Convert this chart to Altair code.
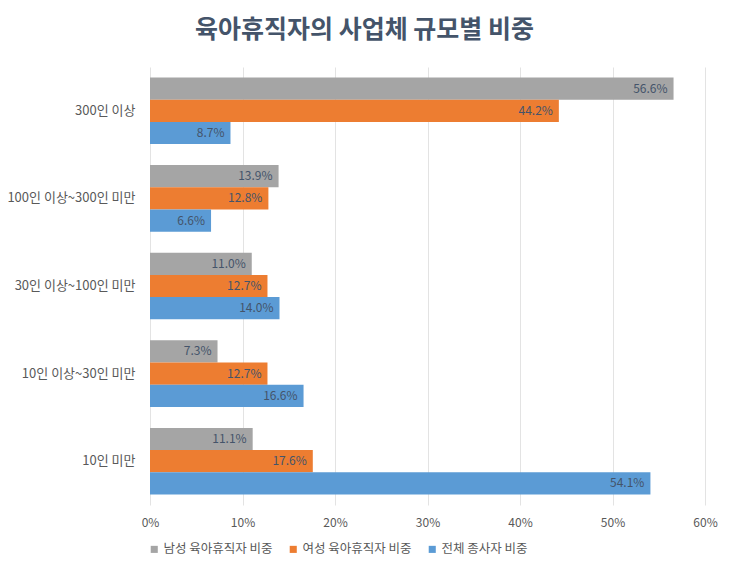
import altair as alt
import pandas as pd

categories = ["300인 이상", "100인 이상~300인 미만", "30인 이상~100인 미만", "10인 이상~30인 미만", "10인 미만"]
series = ["남성 육아휴직자 비중", "여성 육아휴직자 비중", "전체 종사자 비중"]
male = [56.6, 13.9, 11.0, 7.3, 11.1]
female = [44.2, 12.8, 12.7, 12.7, 17.6]
total = [8.7, 6.6, 14.0, 16.6, 54.1]
colors = ["#A5A5A5", "#ED7D31", "#5B9BD5"]
x_ticks = [0, 10, 20, 30, 40, 50, 60]

rows = []
for s, vals in zip(series, [male, female, total]):
    for c, v in zip(categories, vals):
        rows.append({"category": c, "series": s, "value": v, "label": f"{v:.1f}%"})
df = pd.DataFrame(rows)

font = "Noto Sans CJK KR"

y = alt.Y("category:N", sort=categories, title=None,
          scale=alt.Scale(paddingInner=0.24, paddingOuter=0.12),
          axis=alt.Axis(domain=False, ticks=False, labelFont=font, labelFontSize=13,
                        labelColor="#595959", labelPadding=15))
yoff = alt.YOffset("series:N", sort=series)
x = alt.X("value:Q", title=None,
          scale=alt.Scale(domain=[0, 60], nice=False),
          axis=alt.Axis(values=x_ticks, labelExpr="datum.value + '%'", domain=False, ticks=False,
                        grid=True, gridColor="#E3E3E3", labelFont=font, labelFontSize=12,
                        labelColor="#595959", labelPadding=12, labelFlush=False))

bars = alt.Chart(df).mark_bar().encode(
    y=y, yOffset=yoff, x=x,
    color=alt.Color("series:N", sort=series,
                    scale=alt.Scale(domain=series, range=colors),
                    legend=alt.Legend(title=None, orient="none", direction="horizontal",
                                      legendX=-2, legendY=476, symbolType="square",
                                      symbolSize=50, symbolStrokeWidth=0, labelFont=font,
                                      labelFontSize=12.5, labelColor="#595959",
                                      columnPadding=14, labelOffset=3)),
)

text = alt.Chart(df).mark_text(align="right", baseline="middle", dx=-6, font=font,
                               fontSize=12, color="#44546A").encode(
    y=y, yOffset=yoff, x=x, text="label:N")

chart = (bars + text).properties(
    width=555, height=438,
    title=alt.TitleParams("육아휴직자의 사업체 규모별 비중", font=font, fontSize=25,
                          fontWeight="bold", color="#44546A", anchor="middle", dx=-63, offset=24),
    autosize=alt.AutoSizeParams(type="none"),
    padding={"left": 142, "top": 59, "right": 17, "bottom": 54},
).configure_view(stroke=None)

chart.save("out.html", embed_options={"renderer": "svg", "actions": False})
